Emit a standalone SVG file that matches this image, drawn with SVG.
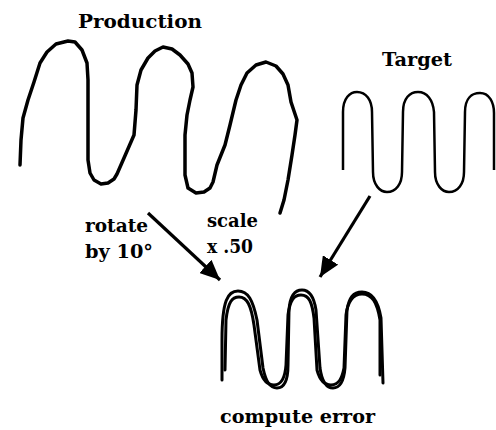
<svg xmlns="http://www.w3.org/2000/svg" width="496" height="430" viewBox="0 0 496 430">
<style>
.lbl{font-family:"DejaVu Serif","Liberation Serif",serif;font-weight:bold;font-size:19px;fill:#000}
.thick{fill:none;stroke:#000;stroke-width:3.5;stroke-linecap:round;stroke-linejoin:round}
.thin{fill:none;stroke:#000;stroke-width:2.5;stroke-linecap:butt;stroke-linejoin:round}
.mid{fill:none;stroke:#000;stroke-width:3;stroke-linecap:round;stroke-linejoin:round}
.arrow{fill:none;stroke:#000;stroke-width:3.2}
</style>
<defs>
<marker id="ah" markerUnits="userSpaceOnUse" markerWidth="22" markerHeight="18" refX="20" refY="9" orient="auto">
<path d="M0,0 L20,9 L0,18 Z" fill="#000"/>
</marker>
</defs>
<rect width="496" height="430" fill="#fff"/>
<g id="production">
<text class="lbl" x="78" y="28" textLength="124" lengthAdjust="spacingAndGlyphs">Production</text>
<polyline class="thick" points="20,165 21,140 23,118 28,100 34,82 40,63 47,52 56,44 68,41 75,42 82,50 87,63 88,80 88,120 88,160 90,173 94,180 101,184 108,183 114,179 117,174 124,158 134,135 136,110 137,85 141,70 148,58 155,51 163,47 172,49 180,55 188,64 192,73 193,87 190,100 187,115 185,135 185,160 185,175 188,188 196,193 204,192 210,188 213,182 217,165 225,145 230,125 236,100 241,85 247,73 256,65 266,62 276,66 283,74 288,85 291,102 297,120 295,135 292,155 288,180 284,200 280,213"/>
</g>
<g id="target">
<text class="lbl" x="382" y="66" textLength="70" lengthAdjust="spacingAndGlyphs">Target</text>
<path class="thin" d="M343,170 L343,112 C343,98 350,92 357,92 C366,92 372,100 372,112 L373,172 C373,185 380,192 387,192 C396,192 402,184 402,172 L403,112 C403,98 410,92 418,92 C427,92 433,100 434,112 L435,172 C435,185 442,192 449,192 C458,192 464,184 464,172 L465,112 C465,98 472,93 480,93 C489,93 494,102 494,113 L494,170"/>
</g>
<g id="labels">
<text class="lbl" x="85" y="232" textLength="63" lengthAdjust="spacingAndGlyphs">rotate</text>
<text class="lbl" x="85" y="258" textLength="68" lengthAdjust="spacingAndGlyphs">by 10°</text>
<text class="lbl" x="207" y="227" textLength="51" lengthAdjust="spacingAndGlyphs">scale</text>
<text class="lbl" x="207" y="253" textLength="46" lengthAdjust="spacingAndGlyphs">x .50</text>
</g>
<g id="result">
<path class="mid" d="M222,380 L222,340 C222,300 228,291 238,291 C248,291 253,300 257,320 L263,368 C266,382 270,388 277,388 C284,388 288,380 288,365 L289,310 C290,296 295,290 302,290 C310,290 314,297 316,310 L320,368 C322,382 327,388 333,388 C340,388 344,380 345,368 L347,310 C349,298 353,292 362,292 C372,292 378,300 381,318 L383,383"/>
<path class="mid" d="M225,370 L226,320 C228,302 232,297 239,297 C247,297 251,305 254,325 L260,370 C263,381 268,385 274,385 C281,385 285,378 286,365 L288,315 C290,300 294,295 301,295 C309,295 312,302 314,318 L317,370 C320,381 325,385 331,385 C339,385 342,378 344,368 L346,315 C348,300 354,294 362,294 C372,294 377,302 380,320 L380,375"/>
<text class="lbl" x="220" y="423" textLength="155" lengthAdjust="spacingAndGlyphs">compute error</text>
</g>
<g id="connectors">
<line class="arrow" x1="148" y1="213" x2="220" y2="280" marker-end="url(#ah)"/>
<line class="arrow" x1="370" y1="196" x2="320" y2="277" marker-end="url(#ah)"/>
</g>
</svg>
